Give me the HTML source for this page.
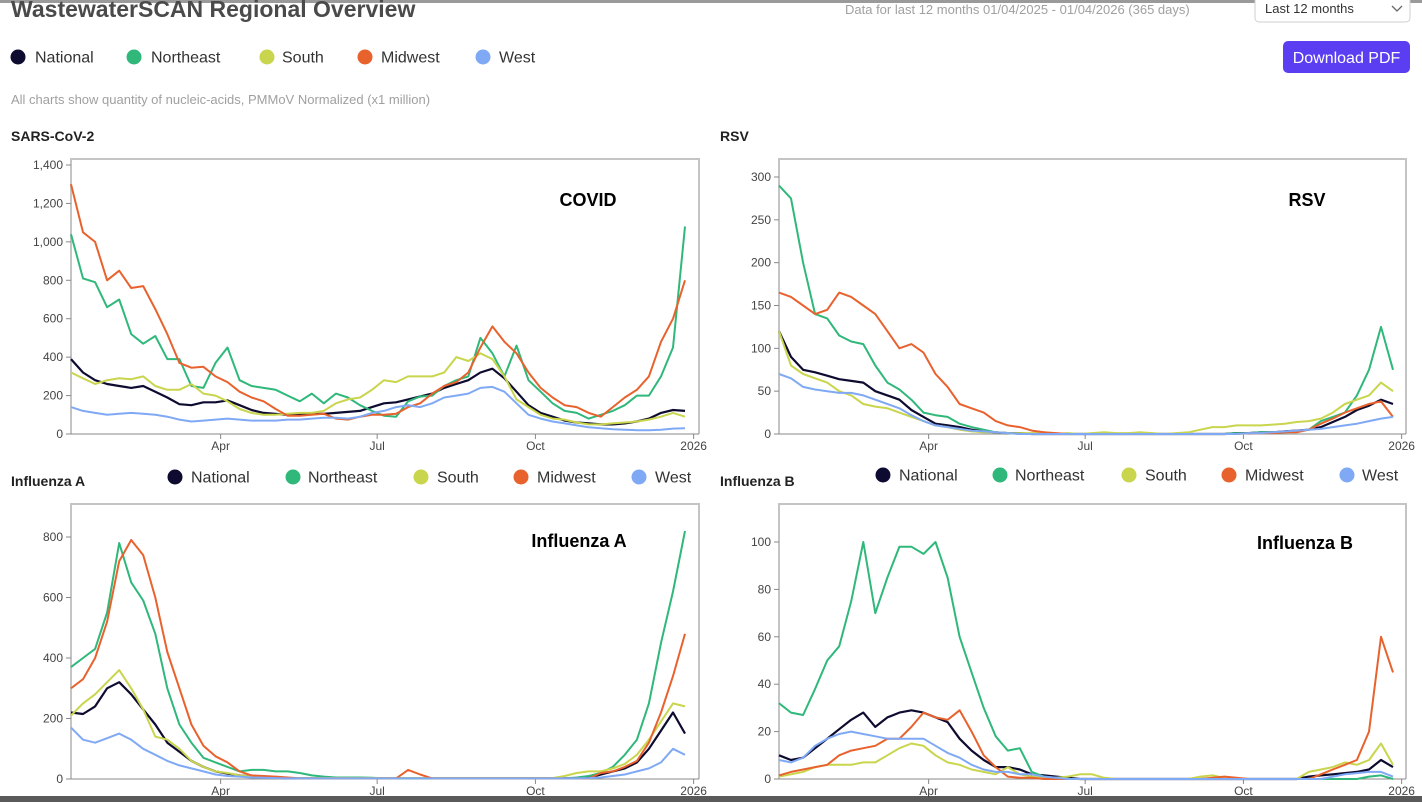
<!DOCTYPE html>
<html><head><meta charset="utf-8"><style>
html,body{margin:0;padding:0;background:#fff;}
svg{display:block;font-family:"Liberation Sans",sans-serif;}
</style></head><body>
<svg id="root" width="1422" height="802" viewBox="0 0 1422 802">
<rect x="0" y="0" width="1422" height="3" fill="#9a9a9a"/>
<text x="11" y="17" font-size="23" font-weight="bold" fill="#4a4a4a">WastewaterSCAN Regional Overview</text>
<text x="845" y="14" font-size="13" fill="#a0a0a0">Data for last 12 months 01/04/2025 - 01/04/2026 (365 days)</text>
<g>
<rect x="1255" y="-8" width="155" height="30" rx="4" fill="#fff" stroke="#cfcfcf"/>
<text x="1265" y="13" font-size="13" fill="#333">Last 12 months</text>
<path d="M1392 6 L1397 11 L1402 6" fill="none" stroke="#666" stroke-width="1.3"/>
</g>
<g>
<rect x="1283" y="41" width="127" height="32" rx="5" fill="#5b3df2"/>
<text x="1346.5" y="63" font-size="16" fill="#fff" text-anchor="middle">Download PDF</text>
</g>
<text x="11" y="104" font-size="13" fill="#a0a0a0">All charts show quantity of nucleic-acids, PMMoV Normalized (x1 million)</text>
<text x="11" y="141" font-size="14" font-weight="bold" fill="#222">SARS-CoV-2</text>
<text x="720" y="141" font-size="14" font-weight="bold" fill="#222">RSV</text>
<text x="11" y="486" font-size="14" font-weight="bold" fill="#222">Influenza A</text>
<text x="720" y="486" font-size="14" font-weight="bold" fill="#222">Influenza B</text>
<rect x="0" y="796" width="1422" height="6" fill="#5a5a5a"/>
</svg>
<script>
const regions = ["National","Northeast","South","Midwest","West"];
const regionColors = ["#0e0b30","#2fb87a","#c9d54c","#e8622d","#80a9f5"];
const startDay = 3, stepDays = 7;
const monthTicks = [["Apr",90],["Jul",181],["Oct",273],["2026",365]];

const covidNational = [390,320,280,260,250,240,250,220,190,155,150,165,165,175,150,125,110,105,100,100,105,105,110,115,120,140,160,165,180,195,210,240,260,280,320,340,290,220,150,110,90,70,60,55,50,50,55,65,80,110,125,120];
const covidNortheast = [1040,810,790,660,700,520,470,510,390,390,250,240,370,450,280,250,240,230,200,170,210,160,210,190,150,120,95,90,170,195,200,250,280,300,500,420,300,460,280,220,160,120,110,80,100,120,150,200,200,300,450,1080];
const covidSouth = [320,290,260,280,290,285,300,250,230,230,260,210,200,170,130,110,100,100,105,110,110,120,160,180,190,230,280,270,300,300,300,320,400,380,420,390,300,180,140,100,80,75,60,50,50,55,60,65,75,90,110,90];
const covidMidwest = [1300,1050,1000,800,850,760,770,650,520,370,345,350,300,270,220,190,170,130,95,95,100,105,80,75,90,100,100,105,140,160,210,250,270,320,450,560,480,420,320,240,190,150,140,110,90,140,190,230,300,480,600,800];
const covidWest = [140,120,110,100,105,110,105,100,90,75,65,70,75,80,75,70,70,70,75,75,80,85,85,80,90,110,120,140,150,140,160,190,200,210,240,245,220,160,100,80,65,55,45,35,30,25,22,20,20,22,28,30];
const covidTicks = [0,200,400,600,800,1000,1200,1400];

const rsvNational = [120,90,75,72,68,64,62,60,50,45,40,28,20,12,10,8,5,3,2,1,1,0,0,0,0,0,0,0,0,0,0,0,0,0,0,0,0,0,1,1,2,2,3,4,5,8,14,20,28,33,40,35];
const rsvNortheast = [290,275,200,140,135,115,108,105,80,60,52,40,25,22,20,12,8,5,2,1,0,0,0,0,0,0,0,0,0,0,0,0,0,0,0,0,0,0,1,1,2,2,2,3,5,15,20,25,45,75,125,75];
const rsvSouth = [120,80,70,65,60,50,45,35,32,30,25,20,15,10,8,5,3,2,2,1,1,1,2,0,1,0,1,2,1,1,2,1,0,1,2,5,8,8,10,10,10,11,12,14,15,18,25,35,40,45,60,50];
const rsvMidwest = [165,160,150,140,145,165,160,150,140,120,100,105,95,70,55,35,30,25,15,10,8,4,2,1,0,0,0,0,0,0,0,0,0,0,0,0,0,0,0,1,1,1,2,2,5,12,18,25,30,35,38,20];
const rsvWest = [70,65,55,52,50,48,48,45,40,35,30,22,15,10,8,6,4,3,2,1,0,0,0,0,0,0,0,0,0,0,0,0,0,0,0,0,0,0,0,1,1,2,3,4,5,6,8,10,12,15,18,20];
const rsvTicks = [0,50,100,150,200,250,300];

const fluANational = [220,215,240,300,320,280,230,180,120,90,60,40,25,18,12,8,6,5,2,2,2,2,2,2,2,2,2,2,2,2,2,2,2,2,2,2,2,2,2,2,2,2,3,5,15,25,35,55,100,160,220,150];
const fluANortheast = [370,400,430,550,780,650,590,480,300,180,120,70,55,40,25,30,30,25,25,20,12,8,5,5,5,4,2,2,2,2,2,2,2,2,2,2,2,2,2,2,2,2,5,10,20,40,80,130,250,450,620,820];
const fluASouth = [210,250,280,320,360,300,230,140,130,100,60,40,25,20,12,8,6,5,3,3,3,3,3,3,3,3,3,3,3,3,3,3,3,3,3,3,3,3,3,3,3,10,20,25,25,35,50,80,130,190,250,240];
const fluAMidwest = [300,330,400,520,720,790,740,600,420,300,180,110,75,55,25,12,10,8,5,2,2,2,2,2,2,2,2,2,30,15,2,2,2,2,2,2,2,2,2,2,2,2,2,2,20,25,40,60,120,220,340,480];
const fluAWest = [170,130,120,135,150,130,100,80,60,45,35,25,15,10,8,5,4,3,2,2,2,2,2,2,2,2,2,2,2,2,2,2,2,2,2,2,2,2,2,2,2,2,2,3,5,10,15,25,35,55,100,80];
const fluATicks = [0,200,400,600,800];

const fluBNational = [10,8,9,13,17,21,25,28,22,26,28,29,28,26,24,17,12,8,5,5,4,2,1.5,1,0.5,0,0,0,0,0,0,0,0,0,0,0,0,0,0,0,0,0,0,0,1,1.5,2,2.5,3,4,8,5];
const fluBNortheast = [32,28,27,38,50,56,75,100,70,85,98,98,95,100,85,60,45,30,18,12,13,3,1,0.5,0,0,0,0,0,0,0,0,0,0,0,0,0,0,0,0,0,0,0,0,0,0,0,0,0,1,1.5,0];
const fluBSouth = [1,2,3,5,6,6,6,7,7,10,13,15,14,10,7,6,4,3,2,5,2,1,0.5,0.5,1,2,2,0.5,0,0,0,0,0,0,0,1,1.5,0.5,0,0,0,0,0,0,3,4,5,7,6,8,15,6];
const fluBMidwest = [1.5,3,4,5,6,10,12,13,14,17,17,22,28,26,25,29,20,10,5,1,0.5,0.5,0,0,0,0,0,0,0,0,0,0,0,0,0,0,0.5,1,0.5,0,0,0,0,0,0,2,4,6,8,20,60,45];
const fluBWest = [8,7,9,14,17,19,20,19,18,17,17,17,17,14,11,9,6,4,3,3,2,2,1,0.5,0,0,0,0,0,0,0,0,0,0,0,0,0,0,0,0,0,0,0,0,0,0,1,2,2.5,3,3,1];
const fluBTicks = [0,20,40,60,80,100];

const NS = "http://www.w3.org/2000/svg";
const root = document.getElementById("root");
function mk(tag, attrs, parent){ const e=document.createElementNS(NS,tag); for(const k in attrs) e.setAttribute(k,attrs[k]); (parent||root).appendChild(e); return e; }

function drawChart(cfg){
  const g = mk("g",{});
  
  
  const xS = d => cfg.x0 + (d - startDay) * 1.72;
  const yS = v => cfg.y0 - v * cfg.pxPer;
  const box = mk("path",{d:`M${cfg.x0} ${cfg.y0} V${cfg.top} H${cfg.x1} V${cfg.y0}`,fill:"none",stroke:"#c4c4c4","stroke-width":"2"},g);
  
  
  const ax = mk("line",{x1:cfg.x0,x2:cfg.x1,y1:cfg.y0,y2:cfg.y0,stroke:"#888","stroke-width":"1"},g);
  
  
  cfg.ticks.forEach(t=>{
    const y=yS(t);
    mk("line",{x1:cfg.x0-5,x2:cfg.x0,y1:y,y2:y,stroke:"#888"},g);
    const tx=mk("text",{x:cfg.x0-8,y:y+4,"font-size":"12","text-anchor":"end",fill:"#444"},g);
    tx.textContent=t.toLocaleString("en-US");
    
    
  });
  monthTicks.forEach(m=>{
    const x=xS(m[1]);
    mk("line",{x1:x,x2:x,y1:cfg.y0,y2:cfg.y0+5,stroke:"#888"},g);
    const tx=mk("text",{x:x,y:cfg.y0+16,"font-size":"12","text-anchor":"middle",fill:"#444"},g);
    tx.textContent=m[0];
    
    
  });
  cfg.series.forEach((s,i)=>{
    const d = s.map((v,j)=>(j?"L":"M")+xS(startDay+j*stepDays).toFixed(1)+" "+yS(v).toFixed(1)).join(" ");
    const p = mk("path",{d:d,fill:"none",stroke:regionColors[i],"stroke-width":i===0?"2.2":"2","stroke-linejoin":"round"},g);
    
    
  });
  const an = mk("text",{x:cfg.annX,y:cfg.annY,"font-size":"18","font-weight":"bold","text-anchor":"middle",fill:"#000"},g);
  an.textContent=cfg.label;
  
  
}

drawChart({name:"covid-chart",x0:71,x1:699,top:159,y0:434,pxPer:269/1400,ticks:covidTicks,series:[covidNational,covidNortheast,covidSouth,covidMidwest,covidWest],label:"COVID",annX:588,annY:206});
drawChart({name:"rsv-chart",x0:779,x1:1406,top:159,y0:434,pxPer:257/300,ticks:rsvTicks,series:[rsvNational,rsvNortheast,rsvSouth,rsvMidwest,rsvWest],label:"RSV",annX:1307,annY:206});
drawChart({name:"flu-a-chart",x0:71,x1:699,top:504,y0:779,pxPer:242/800,ticks:fluATicks,series:[fluANational,fluANortheast,fluASouth,fluAMidwest,fluAWest],label:"Influenza A",annX:579,annY:547});
drawChart({name:"flu-b-chart",x0:779,x1:1406,top:504,y0:779,pxPer:237/100,ticks:fluBTicks,series:[fluBNational,fluBNortheast,fluBSouth,fluBMidwest,fluBWest],label:"Influenza B",annX:1305,annY:549});

function legend(name, cy, cxs, lxs){
  const g = mk("g",{});
  
  
  regions.forEach((r,i)=>{
    const e = mk("g",{},g);
    
    
    mk("circle",{cx:cxs[i],cy:cy,r:7.5,fill:regionColors[i]},e);
    const t = mk("text",{x:lxs[i],y:cy+5.5,"font-size":"16",fill:"#333"},e);
    t.textContent=r;
  });
}
legend("legend-top",57,[18,134,267,365,483],[35,151,282,381,499]);
legend("legend-flu-a",477,[175,293,421,521,639],[191,308,437,537,655]);
legend("legend-flu-b",475,[883,1000,1129,1229,1347],[899,1015,1145,1245,1362]);
</script>
</body></html>
